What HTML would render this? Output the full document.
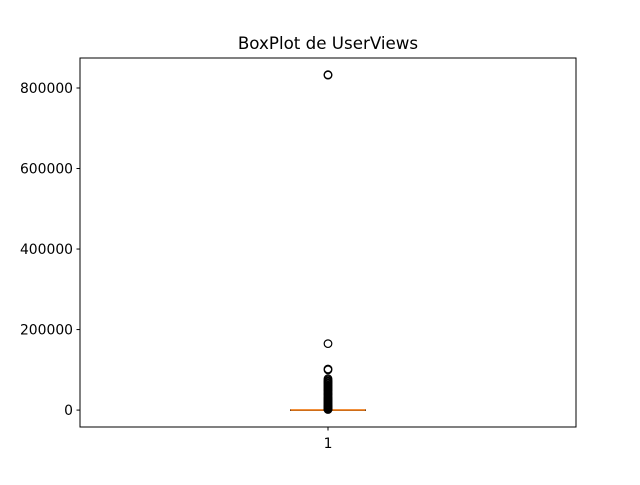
<!DOCTYPE html>
<html><head><meta charset="utf-8"><style>
body{margin:0;background:#fff}
svg{font-family:"DejaVu Sans","Liberation Sans",sans-serif}
</style></head><body>
<svg id="chart" width="640" height="480" xmlns="http://www.w3.org/2000/svg">
<rect width="640" height="480" fill="#fff"/>
<text x="328" y="49" text-anchor="middle" font-size="16.7">BoxPlot de UserViews</text>
<g id="plot"></g>
<rect x="80" y="58" width="496" height="369" fill="none" stroke="#000" stroke-width="1"/>
</svg>
<script>
const categories = ["1"];
const yTicks = [0, 200000, 400000, 600000, 800000];
const quartiles = [0, 50, 150, 500, 1200];
const outliers = [833000, 832000, 165000, 102000, 100000, 78000, 75000, 72000, 70000, 67000, 65000, 62000, 60000, 57000, 55000, 52000, 50000, 48000, 45000, 42000, 40000, 38000, 35000, 32000, 30000, 28000, 26000, 24000, 22000, 20000, 18000, 16000, 14000, 12000, 10000, 9000, 8000, 7000, 6000, 5000, 4000, 3000, 2500, 2000, 1500];
const NS = "http://www.w3.org/2000/svg";
const yMin = -42000, yMax = 874500, plotTop = 58, plotBottom = 427;
function y(v){return plotBottom - (v - yMin)/(yMax - yMin)*(plotBottom - plotTop);}
function x(i){return 80 + (i + 0.5) * 496 / categories.length;}
const g = document.getElementById('plot');
function mk(tag, attrs){const e=document.createElementNS(NS,tag);for(const k in attrs)e.setAttribute(k,attrs[k]);g.appendChild(e);return e;}
yTicks.forEach(t=>{
  const l=mk('line',{x1:76.5,x2:80,y1:y(t),y2:y(t),stroke:'#000'});
  
  
  const tx=mk('text',{x:73,y:y(t)+5,'text-anchor':'end','font-size':13.9});
  tx.textContent=t;
  
  
});
categories.forEach((c,i)=>{
  const cx=x(i);
  const tl=mk('line',{x1:cx,x2:cx,y1:427,y2:430.5,stroke:'#000'});
  
  
  const tx=mk('text',{x:cx,y:448,'text-anchor':'middle','font-size':13.9});
  tx.textContent=c;
  
  
  const hw=37.5;
  const box=mk('rect',{x:cx-hw,y:y(quartiles[3]),width:2*hw,height:Math.max(0.5,y(quartiles[1])-y(quartiles[3])),fill:'none',stroke:'#000'});
  
  
  const w1=mk('line',{x1:cx,x2:cx,y1:y(quartiles[3]),y2:y(quartiles[4]),stroke:'#000'});
  
  
  const med=mk('line',{x1:cx-hw,x2:cx+hw,y1:y(quartiles[2]),y2:y(quartiles[2]),stroke:'#ff7f0e','stroke-width':1.5});
  
  
  outliers.forEach(v=>{
    const o=mk('circle',{cx:cx,cy:y(v),r:3.8,fill:'none',stroke:'#000','stroke-width':1.2});
    
    
  });
});
</script>
</body></html>
